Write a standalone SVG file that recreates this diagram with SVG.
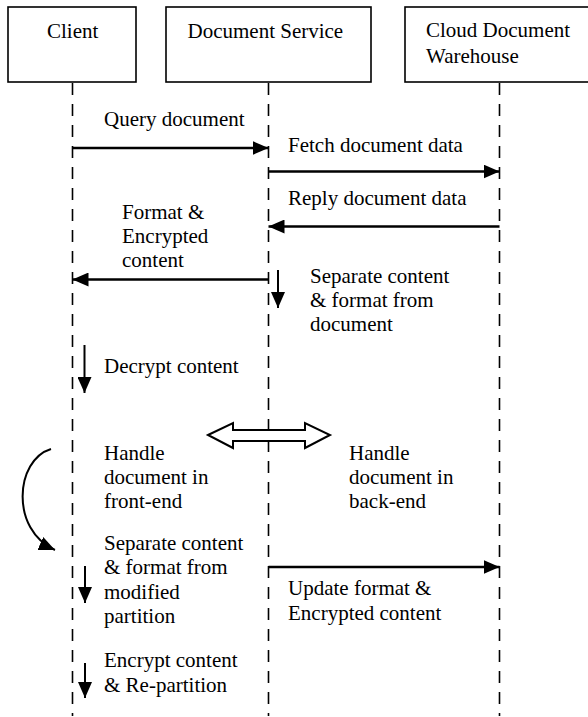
<svg xmlns="http://www.w3.org/2000/svg" width="588" height="717" viewBox="0 0 588 717">
<style>
  text { font-family: "Liberation Serif", "Times New Roman", serif; font-size: 21px; fill: #000; }
  .box { fill: #fff; stroke: #000; stroke-width: 1.6; }
  .life { stroke: #000; stroke-width: 1.6; stroke-dasharray: 12 9; fill: none; }
  .msg { stroke: #000; stroke-width: 2.4; fill: none; marker-end: url(#ah); }
  .self { stroke: #000; stroke-width: 2; fill: none; marker-end: url(#ah); }
</style>
<defs>
  <marker id="ah" viewBox="0 0 16 14" refX="16" refY="7" markerWidth="16" markerHeight="14" markerUnits="userSpaceOnUse" orient="auto">
    <path d="M0,0 L16,7 L0,14 z" fill="#000"/>
  </marker>
</defs>

<g id="client">
  <rect class="box" x="8" y="7" width="128" height="75"/>
  <text x="47" y="38">Client</text>
</g>
<g id="document-service">
  <rect class="box" x="166" y="7" width="205" height="75"/>
  <text x="187.5" y="38">Document Service</text>
</g>
<g id="cloud-warehouse">
  <rect class="box" x="405" y="7" width="190" height="75"/>
  <text x="426" y="37">Cloud Document</text>
  <text x="426" y="63">Warehouse</text>
</g>

<g id="lifelines">
  <line class="life" x1="72.5" y1="83" x2="72.5" y2="716"/>
  <line class="life" x1="268.5" y1="83" x2="268.5" y2="716"/>
  <line class="life" x1="499.5" y1="83" x2="499.5" y2="716"/>
</g>

<g id="connectors">
  <line class="msg" x1="72.5" y1="148" x2="268.5" y2="148"/>
  <line class="msg" x1="268.5" y1="171.5" x2="499.5" y2="171.5"/>
  <line class="msg" x1="499.5" y1="226.5" x2="268.5" y2="226.5"/>
  <line class="msg" x1="268.5" y1="279.5" x2="72.5" y2="279.5"/>
  <line class="self" x1="278" y1="270" x2="278" y2="308"/>
  <line class="self" x1="84.5" y1="345" x2="84.5" y2="393"/>
  <polygon points="208,435 233,423 233,430 305,430 305,423 330,435 305,448 305,441 233,441 233,448" fill="none" stroke="#000" stroke-width="2"/>
  <path class="self" d="M51,449 C15,460 10,530 55,550"/>
  <line class="msg" x1="268.5" y1="567" x2="499.5" y2="567"/>
  <line class="self" x1="85" y1="566" x2="85" y2="603"/>
  <line class="self" x1="85" y1="663" x2="85" y2="698"/>
</g>

<g id="labels">
  <text x="104" y="126">Query document</text>
  <text x="288" y="152">Fetch document data</text>
  <text x="288" y="205">Reply document data</text>
  <text x="122" y="219">Format &amp;</text>
  <text x="122" y="243">Encrypted</text>
  <text x="122" y="267">content</text>
  <text x="310" y="283">Separate content</text>
  <text x="310" y="307">&amp; format from</text>
  <text x="310" y="331">document</text>
  <text x="104" y="373">Decrypt content</text>
  <text x="104" y="460">Handle</text>
  <text x="104" y="484">document in</text>
  <text x="104" y="508">front-end</text>
  <text x="349" y="460">Handle</text>
  <text x="349" y="484">document in</text>
  <text x="349" y="508">back-end</text>
  <text x="104" y="550">Separate content</text>
  <text x="104" y="574">&amp; format from</text>
  <text x="104" y="599">modified</text>
  <text x="104" y="623">partition</text>
  <text x="288" y="595">Update format &amp;</text>
  <text x="288" y="620">Encrypted content</text>
  <text x="104" y="667">Encrypt content</text>
  <text x="104" y="692">&amp; Re-partition</text>
</g>
</svg>
